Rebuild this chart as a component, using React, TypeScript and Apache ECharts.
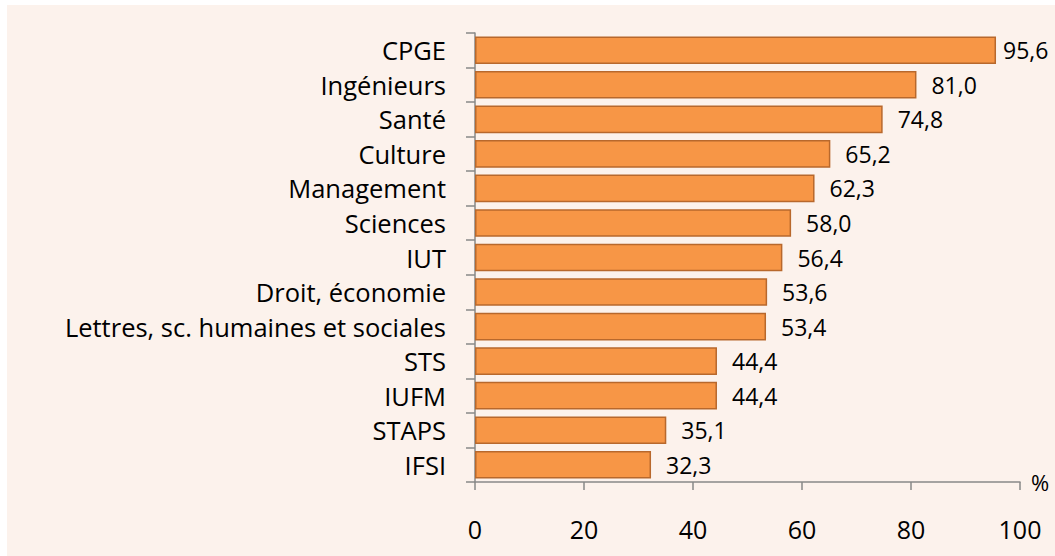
import React, { useEffect, useRef } from "react";
import * as echarts from "echarts";

const categories = [
  "CPGE",
  "Ingénieurs",
  "Santé",
  "Culture",
  "Management",
  "Sciences",
  "IUT",
  "Droit, économie",
  "Lettres, sc. humaines et sociales",
  "STS",
  "IUFM",
  "STAPS",
  "IFSI",
];
const values = [95.6, 81.0, 74.8, 65.2, 62.3, 58.0, 56.4, 53.6, 53.4, 44.4, 44.4, 35.1, 32.3];
const xTicks = [0, 20, 40, 60, 80, 100];

const FONT = "Open Sans";

export default function App() {
  const ref = useRef<HTMLDivElement>(null);
  useEffect(() => {
    if (!ref.current) return;
    const chart = echarts.init(ref.current, null, { renderer: "svg" });
    const seriesData = values.map((v, i) =>
      i === 0 ? { value: v, label: { distance: 7 } } : { value: v }
    );
    chart.setOption({
      animation: false,
      backgroundColor: "#FCF2EC",
      textStyle: { fontFamily: FONT, color: "#000" },
      grid: { left: 468, right: 35, top: 28, bottom: 74, containLabel: false },
      xAxis: {
        type: "value",
        min: xTicks[0],
        max: xTicks[xTicks.length - 1],
        interval: 20,
        name: "%",
        nameLocation: "end",
        nameGap: 11,
        nameTextStyle: { fontSize: 22, color: "#000", fontFamily: FONT },
        axisLine: { show: true, lineStyle: { color: "#898989", width: 1.5 } },
        axisTick: { show: true, length: 8, lineStyle: { color: "#898989", width: 1.5 } },
        splitLine: { show: false },
        axisLabel: { fontSize: 25, color: "#000", margin: 34, fontFamily: FONT },
      },
      yAxis: {
        type: "category",
        data: categories,
        inverse: true,
        axisLine: { show: true, lineStyle: { color: "#898989", width: 1.5 } },
        axisTick: { show: true, length: 9, alignWithLabel: false, lineStyle: { color: "#898989", width: 1.5 } },
        axisLabel: { fontSize: 25.5, color: "#000", margin: 29, fontFamily: FONT },
      },
      series: [
        {
          type: "bar",
          data: seriesData,
          barCategoryGap: "20%",
          itemStyle: { color: "#F79646", borderColor: "#B8682C", borderWidth: 1.5 },
          label: {
            show: true,
            position: "right",
            distance: 15,
            fontSize: 23,
            color: "#000",
            fontFamily: FONT,
            formatter: (p: any) => p.value.toFixed(1).replace(".", ","),
          },
        },
      ],
    });
    return () => chart.dispose();
  }, []);
  return (
    <div style={{ position: "absolute", left: 0, top: 0, width: 1055, height: 556, background: "#fff" }}>
      <div ref={ref} style={{ position: "absolute", left: 7, top: 5, width: 1048, height: 551 }} />
    </div>
  );
}
